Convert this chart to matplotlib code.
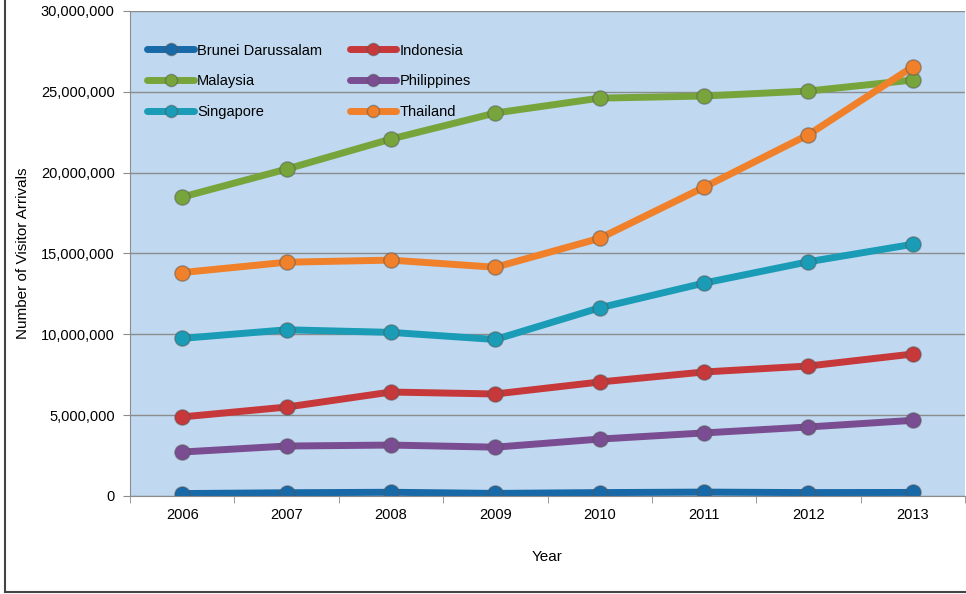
import matplotlib
matplotlib.use('Agg')
import matplotlib.pyplot as plt
from matplotlib.lines import Line2D
from matplotlib.ticker import FuncFormatter

plt.rcParams['font.family'] = ['Liberation Sans', 'DejaVu Sans']

years = ['2006', '2007', '2008', '2009', '2010', '2011', '2012', '2013']

brunei = [150000, 200000, 230000, 160000, 210000, 240000, 210000, 220000]
indonesia = [4890000, 5500000, 6430000, 6310000, 7050000, 7670000, 8040000, 8780000]
malaysia = [18490000, 20220000, 22080000, 23690000, 24610000, 24740000, 25050000, 25730000]
philippines = [2720000, 3090000, 3150000, 3020000, 3520000, 3900000, 4270000, 4680000]
singapore = [9750000, 10280000, 10120000, 9680000, 11640000, 13170000, 14490000, 15570000]
thailand = [13820000, 14460000, 14590000, 14150000, 15940000, 19100000, 22350000, 26550000]

series = [
    ('Brunei Darussalam', brunei, '#1769a8'),
    ('Indonesia', indonesia, '#c6383a'),
    ('Malaysia', malaysia, '#77a53b'),
    ('Philippines', philippines, '#7a4d92'),
    ('Singapore', singapore, '#1a9bb6'),
    ('Thailand', thailand, '#f0802a'),
]

fig = plt.figure(figsize=(9.66, 5.94), dpi=100)
ax = fig.add_axes([0.1346, 0.165, 0.8644, 0.8165])
ax.set_facecolor('#c0d9f0')

x = list(range(len(years)))
lines = []
for name, vals, col in series:
    ln, = ax.plot(x, vals, color=col, lw=5, marker='o', ms=11,
                  markerfacecolor=col, markeredgecolor='#55555580', markeredgewidth=1,
                  label=name, solid_capstyle='round')
    lines.append(ln)

ax.set_xlim(-0.5, len(years) - 0.5)
ax.set_ylim(0, 30000000)
ax.set_yticks(range(0, 30000001, 5000000))
ax.yaxis.set_major_formatter(FuncFormatter(lambda v, p: f'{int(v):,}'))
ax.grid(axis='y', color='#8c8c8c', lw=1)
ax.set_axisbelow(True)

ax.set_xticks(x)
ax.set_xticklabels(years)
ax.set_xticks([i - 0.5 for i in range(len(years) + 1)], minor=True)
ax.tick_params(axis='x', which='major', length=0, pad=9)
ax.tick_params(axis='x', which='minor', length=5, color='#8c8c8c')
ax.tick_params(axis='y', length=5, color='#8c8c8c', pad=6)
ax.tick_params(labelsize=10.5)

for s in ['top', 'right']:
    ax.spines[s].set_visible(False)
for s in ['left', 'bottom']:
    ax.spines[s].set_color('#8c8c8c')

ax.set_xlabel('Year', fontsize=11, labelpad=20)
ax.set_ylabel('Number of Visitor Arrivals', fontsize=11, labelpad=8)

# row-wise legend order (matplotlib fills columns first)
order = [0, 2, 4, 1, 3, 5]
ax.legend([lines[i] for i in order], [series[i][0] for i in order],
          loc='upper left', ncol=2, frameon=False, fontsize=10.5,
          bbox_to_anchor=(0.005, 0.96), handlelength=3.2, handletextpad=0.2,
          columnspacing=1.9, labelspacing=1.15, markerscale=0.8)

# outer frame
fig.add_artist(Line2D([5 / 966, 5 / 966], [2 / 594, 1], color='#444444', lw=1.5))
fig.add_artist(Line2D([5 / 966, 1], [2 / 594, 2 / 594], color='#444444', lw=1.5))

fig.savefig('out.png', dpi=100)
